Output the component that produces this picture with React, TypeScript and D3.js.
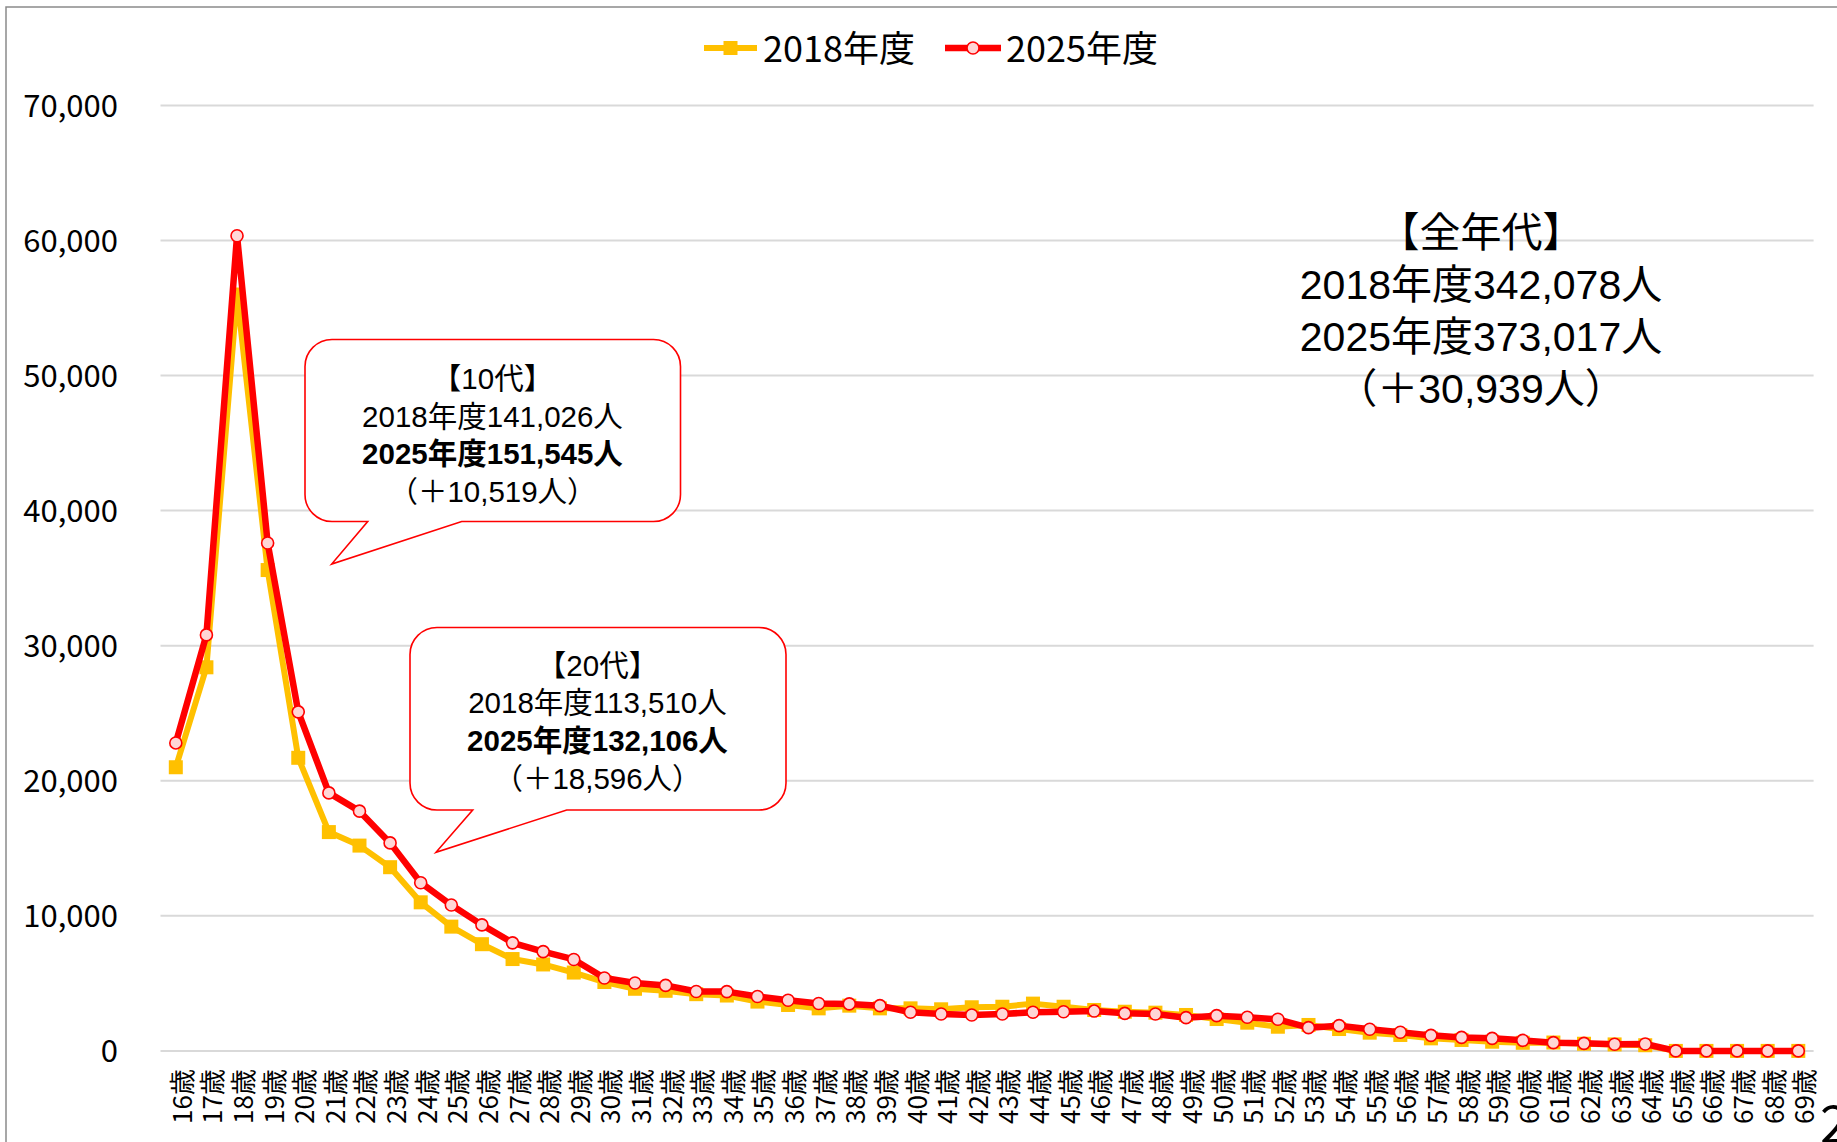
import React from "react";
import * as d3 from "d3";

const ages = [16,17,18,19,20,21,22,23,24,25,26,27,28,29,30,31,32,33,34,35,36,37,38,39,40,41,42,43,44,45,46,47,48,49,50,51,52,53,54,55,56,57,58,59,60,61,62,63,64,65,66,67,68,69];
const values2018 = [21000,28400,56000,35600,21700,16200,15200,13600,11000,9200,7900,6800,6400,5800,5100,4600,4450,4200,4100,3650,3400,3150,3350,3150,3150,3080,3230,3270,3500,3270,3030,2900,2830,2660,2360,2090,1790,1920,1620,1350,1180,930,810,680,600,620,530,480,420,0,0,0,0,0];
const values2025 = [22800,30800,60350,37600,25100,19100,17750,15400,12450,10800,9330,8000,7350,6770,5400,5030,4850,4400,4390,4030,3750,3510,3480,3350,2860,2730,2660,2730,2860,2900,2950,2780,2730,2460,2610,2490,2340,1720,1870,1600,1380,1150,1000,930,780,610,560,490,510,0,0,0,0,0];
const yTicks = [0,10000,20000,30000,40000,50000,60000,70000];
const seriesNames = ["2018年度", "2025年度"];
const box10 = ["【10代】", "2018年度141,026人", "2025年度151,545人", "（＋10,519人）"];
const box20 = ["【20代】", "2018年度113,510人", "2025年度132,106人", "（＋18,596人）"];
const allAges = ["【全年代】", "2018年度342,078人", "2025年度373,017人", "（＋30,939人）"];

const W = 1837, H = 1142;
const FONT = "'Noto Sans CJK JP', 'Noto Sans', sans-serif";
const BLOCK_FONT = "'Liberation Sans', 'Noto Sans CJK JP', sans-serif";
const YELLOW = "#FFC000";
const RED = "#FF0000";
const PINK = "#FFD6D6";

function callout(x0: number, y0: number, x1: number, y1: number, r: number, tailEnd: number, tipX: number, tipY: number, tailStart: number) {
  return `M${x0 + r},${y0} H${x1 - r} A${r},${r} 0 0 1 ${x1},${y0 + r} V${y1 - r} A${r},${r} 0 0 1 ${x1 - r},${y1} H${tailEnd} L${tipX},${tipY} L${tailStart},${y1} H${x0 + r} A${r},${r} 0 0 1 ${x0},${y1 - r} V${y0 + r} A${r},${r} 0 0 1 ${x0 + r},${y0} Z`;
}

function Block({ lines, x, y, dy, size, boldIndex }: { lines: string[]; x: number; y: number; dy: number; size: number; boldIndex: number }) {
  return (
    <g fontFamily={BLOCK_FONT}>
      {lines.map((s, i) => (
        <text key={i} x={x} y={y + i * dy} textAnchor="middle" fontSize={size} fill="#000" fontWeight={i === boldIndex ? 700 : 400}>{s}</text>
      ))}
    </g>
  );
}

export default function App() {
  const x = d3.scaleBand<number>().domain(ages).range([160.5, 1813.6]).padding(0);
  const y = d3.scaleLinear().domain([0, 70000]).range([1050.9, 105.4]);
  const cx = (a: number) => (x(a) as number) + x.bandwidth() / 2;
  const line = d3.line<number>().x((_, i) => cx(ages[i])).y((v) => y(v));
  const fmt = d3.format(",");

  return (
    <svg width={W} height={H} style={{ position: "absolute", left: 0, top: 0, background: "#fff" }} fontFamily={FONT}>
      <rect x={0} y={0} width={W} height={H} fill="#fff" />
      <path d={`M6,${H + 5} V7 H${W + 5}`} fill="none" stroke="#8a8a8a" strokeWidth={1.5} />

      {yTicks.map((t) => (
        <line key={t} x1={160.5} x2={1813.6} y1={y(t)} y2={y(t)} stroke="#D9D9D9" strokeWidth={2} />
      ))}
      {yTicks.map((t) => (
        <text key={"l" + t} x={118} y={y(t) + 11.5} textAnchor="end" fontSize={31} fill="#000">{fmt(t)}</text>
      ))}

      {ages.map((a) => (
        <text key={"x" + a} transform={`translate(${cx(a) + 4.5},1069) rotate(-90)`} textAnchor="end" dominantBaseline="central" fontSize={26} fill="#000">{`${a}歳`}</text>
      ))}

      <path d={line(values2018) || ""} fill="none" stroke={YELLOW} strokeWidth={6} strokeLinejoin="round" />
      {values2018.map((v, i) => (
        <rect key={"s" + i} x={cx(ages[i]) - 7} y={y(v) - 7} width={14} height={14} fill={YELLOW} />
      ))}

      <path d={line(values2025) || ""} fill="none" stroke={RED} strokeWidth={6.5} strokeLinejoin="round" />
      {values2025.map((v, i) => (
        <circle key={"c" + i} cx={cx(ages[i])} cy={y(v)} r={6} fill={PINK} stroke={RED} strokeWidth={1.6} />
      ))}

      <line x1={704} x2={757} y1={48} y2={48} stroke={YELLOW} strokeWidth={6} />
      <rect x={723.5} y={41} width={14} height={14} fill={YELLOW} />
      <text x={763} y={62} fontSize={36} fill="#000">{seriesNames[0]}</text>
      <line x1={945} x2={1001} y1={48} y2={48} stroke={RED} strokeWidth={6.5} />
      <circle cx={973} cy={48} r={6} fill={PINK} stroke={RED} strokeWidth={1.6} />
      <text x={1006} y={62} fontSize={36} fill="#000">{seriesNames[1]}</text>

      <path d={callout(305, 339.5, 680.5, 521.5, 27, 461.7, 331.7, 564, 367.7)} fill="#fff" stroke={RED} strokeWidth={1.6} />
      <Block lines={box10} x={492.5} y={389} dy={37.5} size={29.5} boldIndex={2} />

      <path d={callout(410, 627.5, 786, 810, 27, 566.7, 436, 852.3, 472.7)} fill="#fff" stroke={RED} strokeWidth={1.6} />
      <Block lines={box20} x={597.5} y={675.5} dy={37.8} size={29.5} boldIndex={2} />

      <Block lines={allAges} x={1481} y={247} dy={52} size={41} boldIndex={-1} />

      <text x={1820} y={1143} fontSize={52} fill="#000">2</text>
    </svg>
  );
}
